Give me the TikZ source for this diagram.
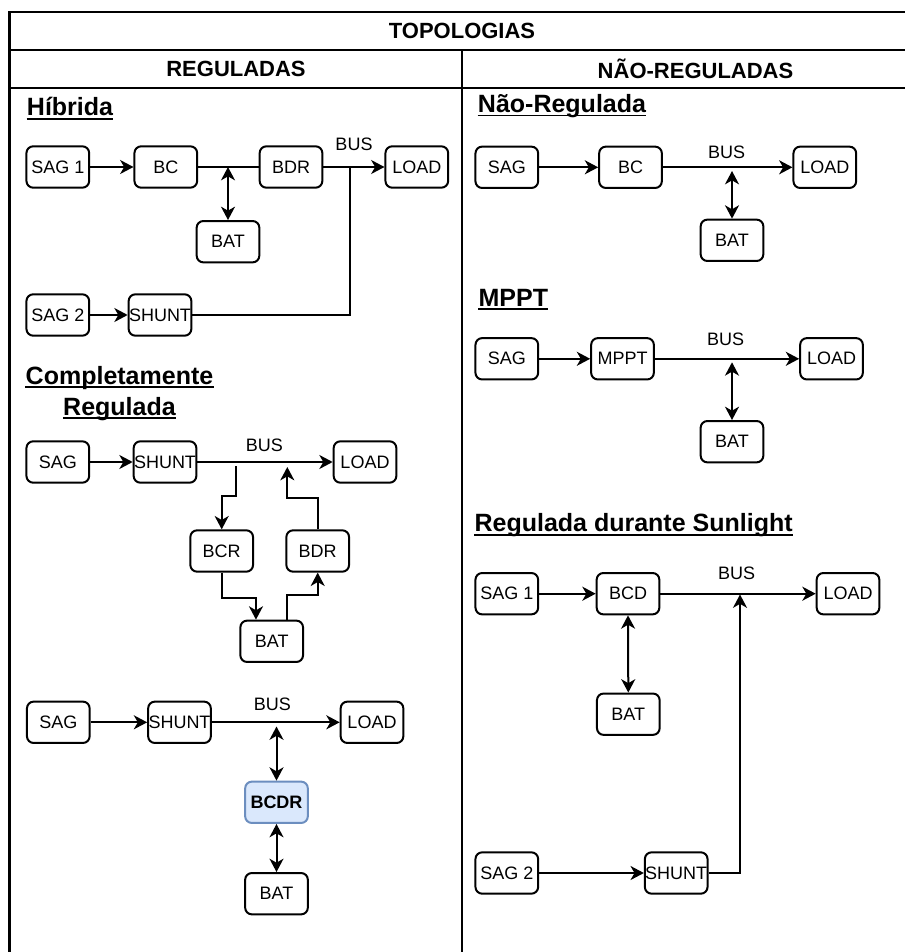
\documentclass[tikz,border=0pt]{standalone}
\usepackage{fontspec}
\setmainfont{Liberation Sans}
\usetikzlibrary{arrows.meta}
\definecolor{bcdrfill}{HTML}{DAE8FC}
\definecolor{bcdrdraw}{HTML}{6C8EBF}
\begin{document}
\begin{tikzpicture}[x=0.75pt,y=-0.75pt,
 box/.style={draw, rounded corners=5pt, minimum width=47pt, minimum height=31pt, inner sep=0pt, line width=1.5pt, font=\fontsize{13.5}{16}\selectfont},
 tip/.tip={Stealth[length=10pt,width=10.5pt,inset=3pt]},
 arr/.style={line width=1.5pt, -tip},
 biarr/.style={line width=1.5pt, tip-tip},
 wire/.style={line width=1.5pt},
 gridline/.style={line width=1.6pt},
 lbl/.style={font=\fontsize{13.5}{16}\selectfont, inner sep=0pt},
 hdr/.style={font=\fontsize{16.5}{19}\selectfont\bfseries, inner sep=0pt},
 ttl/.style={font=\fontsize{18.75}{22}\selectfont\bfseries, inner sep=0pt, anchor=base west},
 ttlc/.style={font=\fontsize{18.75}{22}\selectfont\bfseries, inner sep=0pt, anchor=base},
 ul/.style={line width=1.3pt}
]
\fill[white] (0,0) rectangle (905,952);
\clip (0,0) rectangle (905,952);

% table frame
\draw[gridline] (9.5,12.3) -- (930,12.3);
\draw[gridline] (9.5,50) -- (930,50);
\draw[gridline] (9.5,87.7) -- (930,87.7);
\draw[gridline] (9.5,11.5) -- (9.5,960);
\draw[gridline] (462.3,50) -- (462.3,960);

\node[hdr] (tTop) at (462,31) {TOPOLOGIAS};
\node[hdr] (tReg) at (236,69) {REGULADAS};
\node[hdr] (tNReg) at (695.5,69) {NÃO-REGULADAS};

% section titles
\node[ttl] (s1) at (26.7,116) {Híbrida};
\node[ttlc] (s2a) at (119.5,384.3) {Completamente};
\node[ttlc] (s2b) at (119.5,415) {Regulada};
\node[ttl] (s3) at (477.7,112.7) {Não-Regulada};
\node[ttl] (s4) at (478.3,306) {MPPT};
\node[ttl] (s5) at (474.3,531.7) {Regulada durante Sunlight};
\foreach \s in {s1,s2a,s2b,s3,s4,s5}{
  \draw[ul] ([yshift=-2.2pt]\s.base west) -- ([yshift=-2.2pt]\s.base east);
}

% ---------------- Hibrida
\node[box] (hS1) at (57.8,167) {SAG 1};
\node[box] (hBC) at (165.8,167) {BC};
\node[box] (hBDR) at (291,167) {BDR};
\node[box] (hLOAD) at (416.8,167) {LOAD};
\node[box] (hBAT) at (228,241.7) {BAT};
\node[box] (hS2) at (57.8,315) {SAG 2};
\node[box] (hSH) at (160,315) {SHUNT};
\node[lbl] (hBUS) at (354,144) {BUS};
\coordinate (hJ) at (350,167);
\draw[arr] (hS1) -- (hBC);
\draw[wire] (hBC) -- (hBDR);
\draw[arr] (hBDR) -- (hLOAD);
\draw[biarr] (hBAT.north) -- (hBAT.north |- hBC.east);
\draw[arr] (hS2) -- (hSH);
\draw[wire] (hSH.east) -| (hJ);

% ---------------- Completamente Regulada
\node[box] (cS) at (57.8,462) {SAG};
\node[box] (cSH) at (165,462) {SHUNT};
\node[box] (cLOAD) at (365,462) {LOAD};
\node[lbl] (cBUS) at (264.3,445) {BUS};
\node[box] (cBCR) at (221.7,551) {BCR};
\node[box] (cBDR) at (317.7,551) {BDR};
\node[box] (cBAT) at (271.7,641.3) {BAT};
\coordinate (c1) at (236,466);
\coordinate (c3) at (287.3,467);
\draw[arr] (cS) -- (cSH);
\draw[arr] (cSH) -- (cLOAD);
\draw[arr] (c1) -- ++(0,30) -| (cBCR.north);
\draw[arr] (cBCR.south) -- ++(0,25.6) -| ([xshift=-11.8pt]cBAT.north);
\draw[arr] ([xshift=11.8pt]cBAT.north) -- ++(0,-25) -| (cBDR.south);
\draw[arr] (cBDR.north) -- ++(0,-31) -| (c3);

% ---------------- BCDR
\node[box] (dS) at (58.3,722.3) {SAG};
\node[box] (dSH) at (179.5,722.3) {SHUNT};
\node[box] (dLOAD) at (372,722.3) {LOAD};
\node[lbl] (dBUS) at (272.3,704.3) {BUS};
\node[box, fill=bcdrfill, draw=bcdrdraw, font=\fontsize{13.5}{16}\selectfont\bfseries] (dBCDR) at (276.5,802.3) {BCDR};
\node[box] (dBAT) at (276.5,893.7) {BAT};
\coordinate (d1) at (276.5,726.5);
\draw[arr] (dS) -- (dSH);
\draw[arr] (dSH) -- (dLOAD);
\draw[biarr] (d1) -- (dBCDR.north);
\draw[biarr] (dBCDR.south) -- (dBAT.north);

% ---------------- Nao-Regulada
\node[box] (nS) at (506.8,167.3) {SAG};
\node[box] (nBC) at (630.5,167.3) {BC};
\node[box] (nLOAD) at (824.8,167.3) {LOAD};
\node[lbl] (nBUS) at (726.7,152.5) {BUS};
\node[box] (nBAT) at (732,240.3) {BAT};
\coordinate (n1) at (732,171);
\draw[arr] (nS) -- (nBC);
\draw[arr] (nBC) -- (nLOAD);
\draw[biarr] (n1) -- (nBAT.north);

% ---------------- MPPT
\node[box] (mS) at (506.8,358.8) {SAG};
\node[box] (mM) at (622.5,358.8) {MPPT};
\node[box] (mLOAD) at (831.5,358.8) {LOAD};
\node[lbl] (mBUS) at (725.7,339.3) {BUS};
\node[box] (mBAT) at (732,441.7) {BAT};
\coordinate (m1) at (732,362.3);
\draw[arr] (mS) -- (mM);
\draw[arr] (mM) -- (mLOAD);
\draw[biarr] (m1) -- (mBAT.north);

% ---------------- Regulada durante Sunlight
\node[box] (rS1) at (506.8,593.7) {SAG 1};
\node[box] (rBCD) at (628,593.7) {BCD};
\node[box] (rLOAD) at (848,593.7) {LOAD};
\node[lbl] (rBUS) at (736.7,573.7) {BUS};
\node[box] (rBAT) at (628.3,714.2) {BAT};
\node[box] (rS2) at (506.8,873) {SAG 2};
\node[box] (rSH) at (676.2,873) {SHUNT};
\coordinate (r1) at (740,594.5);
\draw[arr] (rS1) -- (rBCD);
\draw[arr] (rBCD) -- (rLOAD);
\draw[biarr] (rBCD.south) -- (rBAT.north);
\draw[arr] (rS2) -- (rSH);
\draw[arr] (rSH.east) -| (r1);
\end{tikzpicture}
\end{document}
